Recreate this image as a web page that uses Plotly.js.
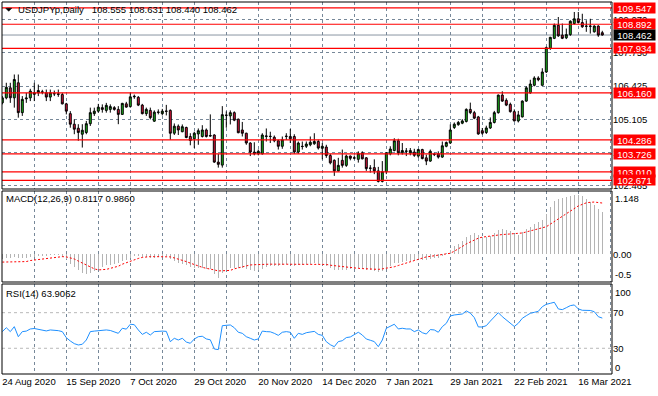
<!DOCTYPE html>
<html><head><meta charset="utf-8">
<script src="https://cdn.plot.ly/plotly-3.0.1.min.js"></script>
<style>html,body{margin:0;padding:0;background:#fff;}#chart{width:658px;height:396px;}</style>
</head><body><div id="chart"></div>
<script>
const symbolTitle = 'USDJPYp,Daily';
const lastBar = [108.555, 108.631, 108.440, 108.462];
const macdTitle = 'MACD(12,26,9) 0.8117 0.9860';
const rsiTitle = 'RSI(14) 63.9062';

const dateLabels = ['24 Aug 2020','15 Sep 2020','7 Oct 2020','29 Oct 2020','20 Nov 2020','14 Dec 2020','7 Jan 2021','29 Jan 2021','22 Feb 2021','16 Mar 2021'];
const gridBars = [0,8,16,24,32,40,48,56,64,72,80,88,96,104,112,120,128,136,144,152];

const open = [105.76,105.96,106.36,105.96,106.56,105.37,105.92,105.96,106.10,106.16,106.20,106.16,105.99,106.13,106.12,106.09,105.72,105.33,104.91,104.75,
104.51,104.58,104.93,105.33,105.43,105.57,105.46,105.50,105.57,105.50,105.30,105.72,105.61,106.00,105.98,105.67,105.33,105.46,105.03,105.38,
105.33,105.42,105.46,104.55,104.83,104.61,104.78,104.42,104.33,104.52,104.42,104.68,104.46,104.48,103.40,103.28,105.26,105.24,105.37,105.11,
104.68,104.55,104.16,103.80,103.73,103.73,104.42,104.43,104.39,104.25,104.03,104.42,104.42,104.42,103.80,104.03,104.03,104.09,104.13,104.22,
103.95,104.00,103.66,103.47,103.05,103.47,103.27,103.64,103.57,103.51,103.77,103.57,103.15,103.18,103.05,102.63,103.02,103.73,103.86,104.25,
103.77,103.83,103.77,103.80,103.64,103.90,103.57,103.44,103.70,103.73,103.60,104.03,104.16,104.78,104.89,104.95,105.02,105.50,105.37,105.20,
104.65,104.58,104.76,104.98,105.37,106.07,105.86,105.70,105.41,105.04,105.20,105.83,106.16,106.46,106.75,106.46,106.99,107.93,108.33,108.85,
108.46,108.35,108.48,108.92,109.11,108.96,108.82,108.82,108.59,108.82,108.555];
const high = [106.03,106.56,106.56,106.89,106.89,106.03,106.16,106.32,106.56,106.49,106.28,106.29,106.29,106.25,106.29,106.16,105.76,105.43,105.10,104.91,
104.91,105.04,105.57,105.57,105.72,105.70,105.76,105.70,105.63,105.63,105.76,105.80,106.16,106.09,106.03,105.72,105.57,105.57,105.46,105.50,
105.52,105.68,105.50,104.94,104.90,104.90,104.81,104.55,104.61,104.74,104.87,104.74,105.30,104.51,103.73,105.63,105.42,105.46,105.42,105.13,
105.00,104.57,104.19,104.19,103.90,104.55,104.74,104.61,104.46,104.29,104.42,104.55,104.72,104.51,104.22,104.22,104.22,104.42,104.55,104.29,
104.16,104.09,103.73,103.51,103.57,103.90,103.70,103.66,103.66,103.83,103.83,103.60,103.28,103.51,103.21,103.44,103.80,104.03,104.35,104.33,
104.16,103.96,103.96,103.93,103.93,103.93,103.70,103.90,103.77,103.83,104.22,104.22,104.90,104.98,105.04,105.11,105.54,105.77,105.44,105.24,
104.76,104.85,105.18,105.44,106.09,106.22,105.94,105.77,105.50,105.44,105.86,106.42,106.68,106.82,106.82,107.14,108.00,108.39,108.92,109.18,
108.92,108.72,109.05,109.38,109.38,109.31,109.05,109.11,108.85,108.85,108.631];
const low = [105.70,105.90,105.76,105.57,105.17,105.24,105.76,105.83,105.83,106.03,106.10,105.83,105.83,106.03,106.00,105.70,105.30,104.77,104.51,104.25,
103.98,104.51,104.84,105.24,105.37,105.37,105.37,105.37,105.45,104.91,105.28,105.57,105.57,105.92,105.63,105.30,105.24,105.10,105.00,105.30,
105.26,105.26,104.29,104.48,104.48,104.59,104.35,104.07,103.96,104.09,104.38,104.38,104.42,103.37,103.18,103.18,104.77,104.90,105.03,104.55,
104.42,104.09,103.64,103.67,103.67,103.70,104.22,104.16,104.19,103.90,103.93,104.29,104.16,103.73,103.73,103.90,103.96,104.03,104.09,103.90,
103.51,103.57,103.31,102.85,103.02,103.18,103.21,103.47,103.51,103.38,103.51,103.05,102.98,102.92,102.59,102.59,102.92,103.67,103.83,103.67,
103.70,103.64,103.67,103.61,103.57,103.51,103.28,103.41,103.64,103.54,103.57,103.99,104.12,104.72,104.85,104.91,104.98,105.31,105.11,104.49,
104.49,104.52,104.72,104.94,105.33,105.80,105.63,105.37,105.02,104.98,105.18,105.80,106.12,106.42,106.62,106.44,106.95,107.87,108.30,108.39,
108.30,108.30,108.43,108.88,108.92,108.75,108.59,108.52,108.56,108.39,108.440];
const close = [105.96,106.38,105.96,106.69,105.37,105.90,105.95,106.23,106.16,106.25,106.18,105.99,106.16,106.12,106.10,105.72,105.43,104.91,104.71,104.58,
104.67,104.93,105.37,105.43,105.59,105.50,105.66,105.61,105.50,105.30,105.74,105.59,106.00,106.02,105.67,105.33,105.50,105.17,105.39,105.39,
105.43,105.43,104.55,104.83,104.68,104.81,104.38,104.26,104.55,104.65,104.68,104.42,104.44,103.40,103.31,105.29,105.27,105.37,105.07,104.57,
104.55,104.16,103.80,103.73,103.83,104.48,104.44,104.42,104.25,104.03,104.29,104.43,104.33,103.80,104.16,104.02,104.12,104.19,104.22,103.96,
104.03,103.66,103.37,103.05,103.27,103.27,103.64,103.55,103.56,103.74,103.53,103.14,103.16,103.05,102.63,103.02,103.77,103.92,104.25,103.77,
103.86,103.84,103.86,103.67,103.90,103.54,103.44,103.83,103.71,103.60,104.05,104.18,104.68,104.91,104.98,105.04,105.50,105.37,105.15,104.52,
104.55,104.76,104.98,105.37,106.07,105.83,105.67,105.41,105.04,105.28,105.83,106.36,106.51,106.75,106.68,106.99,107.96,108.37,108.85,108.43,
108.33,108.48,109.01,109.11,108.96,108.79,108.81,108.81,108.82,108.46,108.462];

const macdHist = [-0.09,-0.08,-0.08,-0.06,-0.08,-0.08,-0.07,-0.06,-0.05,-0.04,-0.03,-0.03,-0.02,-0.02,-0.02,-0.05,-0.10,-0.18,-0.25,-0.31,
-0.36,-0.38,-0.36,-0.33,-0.29,-0.25,-0.21,-0.20,-0.18,-0.16,-0.13,-0.11,-0.07,-0.03,-0.03,-0.05,-0.06,-0.08,-0.07,-0.06,
-0.05,-0.04,-0.10,-0.13,-0.16,-0.18,-0.21,-0.25,-0.26,-0.27,-0.27,-0.29,-0.29,-0.38,-0.45,-0.36,-0.31,-0.27,-0.26,-0.27,
-0.27,-0.29,-0.31,-0.32,-0.31,-0.28,-0.25,-0.23,-0.22,-0.23,-0.21,-0.19,-0.19,-0.22,-0.21,-0.20,-0.19,-0.18,-0.17,-0.19,
-0.20,-0.22,-0.26,-0.30,-0.31,-0.31,-0.30,-0.29,-0.28,-0.27,-0.28,-0.30,-0.31,-0.32,-0.35,-0.33,-0.28,-0.23,-0.17,-0.16,
-0.14,-0.13,-0.12,-0.11,-0.10,-0.11,-0.11,-0.09,-0.08,-0.07,-0.03,0.02,0.09,0.15,0.20,0.25,0.33,0.38,0.40,0.37,
0.33,0.33,0.35,0.40,0.47,0.49,0.47,0.44,0.39,0.37,0.42,0.49,0.53,0.59,0.62,0.65,0.77,0.91,1.02,1.07,
1.09,1.11,1.13,1.14,1.148,1.12,1.07,1.01,0.95,0.87,0.8117];
const macdSignal = [-0.15,-0.15,-0.15,-0.15,-0.145,-0.14,-0.14,-0.12,-0.11,-0.10,-0.09,-0.08,-0.07,-0.055,-0.045,-0.045,-0.05,-0.07,-0.09,-0.13,
-0.17,-0.21,-0.25,-0.28,-0.30,-0.30,-0.29,-0.27,-0.25,-0.23,-0.19,-0.16,-0.13,-0.11,-0.08,-0.06,-0.05,-0.045,-0.045,-0.045,
-0.045,-0.045,-0.05,-0.07,-0.09,-0.11,-0.14,-0.17,-0.20,-0.23,-0.25,-0.27,-0.28,-0.30,-0.32,-0.32,-0.32,-0.31,-0.28,-0.26,
-0.24,-0.22,-0.205,-0.20,-0.195,-0.19,-0.19,-0.19,-0.19,-0.19,-0.19,-0.19,-0.19,-0.19,-0.19,-0.19,-0.19,-0.19,-0.19,-0.19,
-0.19,-0.195,-0.21,-0.22,-0.23,-0.24,-0.25,-0.26,-0.265,-0.27,-0.275,-0.28,-0.285,-0.29,-0.29,-0.28,-0.27,-0.255,-0.24,-0.215,
-0.19,-0.165,-0.14,-0.115,-0.09,-0.07,-0.05,-0.04,-0.03,-0.02,-0.01,0.0,0.02,0.06,0.10,0.15,0.20,0.24,0.28,0.31,
0.33,0.34,0.355,0.37,0.375,0.38,0.385,0.39,0.395,0.40,0.41,0.43,0.455,0.47,0.49,0.51,0.53,0.58,0.63,0.69,
0.74,0.79,0.84,0.89,0.93,0.96,0.99,1.00,1.005,0.995,0.986];
const rsi = [48.7,53.1,48.7,54.3,43.0,48.7,49.3,51.7,52.2,51.5,50.6,49.5,50.6,50.5,49.8,48.7,41.9,38.2,35.2,33.7,
34.5,39.3,48.7,49.3,49.8,49.5,50.6,50.0,48.7,46.8,52.5,51.5,57.0,56.5,50.6,45.6,48.0,44.9,48.7,49.3,
49.3,49.0,37.4,41.2,39.3,41.2,37.0,35.6,40.4,43.0,43.5,40.5,39.5,29.2,28.5,55.4,55.5,56.2,53.1,48.0,
46.8,43.0,41.2,39.3,40.5,49.3,48.7,48.5,46.8,44.5,48.0,48.7,48.0,41.2,46.8,45.6,47.5,48.5,49.0,45.6,
44.5,37.4,34.0,31.8,37.5,38.5,42.0,42.7,44.9,48.0,44.9,40.4,39.0,37.5,31.8,39.3,52.5,54.3,57.0,51.7,
52.5,51.7,51.7,48.7,50.6,47.5,46.0,51.0,50.6,48.0,54.3,58.0,66.3,67.4,67.8,68.5,71.9,69.5,64.5,54.0,
53.9,55.4,60.5,65.0,70.0,65.5,62.0,58.5,54.5,58.1,63.7,66.6,69.3,70.4,71.5,76.7,79.4,80.5,81.7,74.2,
73.4,75.6,77.9,78.7,74.2,72.7,72.7,72.5,71.1,65.5,63.9062];

const levels = [109.547,108.892,107.934,106.160,104.286,103.726,103.010,102.671];
const lastPrice = 108.462;
const priceTicks = [109.070,107.750,106.425,105.105,103.785,102.465];
const macdTicks = [0];
const macdTickText = ['0.00'];
const macdEdgeLabels = ['1.148','-0.5'];   // window max / min, printed at the pane edges
const rsiTicks = [70,30];
const rsiEdgeLabels = ['100','0'];         // window max / min, printed at the pane edges
const rsiLevels = [70,30];

const bars = close.map((_, i) => i);
const gridText = gridBars.map((b, k) => (k % 2 === 0 && dateLabels[k/2]) ? dateLabels[k/2] : '');

const FONT = 'Liberation Sans, Arial, sans-serif';
const GRID = '#778899';

const traces = [
  {type:'candlestick', x:bars, open:open, high:high, low:low, close:close, xaxis:'x', yaxis:'y',
   increasing:{fillcolor:'#1BB31B', line:{color:'#000', width:1}},
   decreasing:{fillcolor:'#D8143A', line:{color:'#000', width:1}},
   whiskerwidth:0, hoverinfo:'skip', showlegend:false},
  {type:'bar', x:bars, y:macdHist, xaxis:'x', yaxis:'y2', width:0.3,
   marker:{color:'#B4B4B4', line:{width:0}}, hoverinfo:'skip', showlegend:false},
  {type:'scatter', mode:'lines', x:bars, y:macdSignal, xaxis:'x', yaxis:'y2',
   line:{color:'#FF0000', width:1, dash:'2px,2px'}, hoverinfo:'skip', showlegend:false},
  {type:'scatter', mode:'lines', x:bars, y:rsi, xaxis:'x', yaxis:'y3',
   line:{color:'#1E90FF', width:1}, hoverinfo:'skip', showlegend:false}
];

// pane geometry in paper units
const panes = [[0.4973,1],[0.2473,0.4919],[0,0.2419]];

const shapes = [];
levels.forEach(v => shapes.push({type:'line', xref:'paper', yref:'y', x0:0, x1:1, y0:v, y1:v,
  line:{color:'#FF0000', width:1.2}, layer:'above'}));
shapes.push({type:'line', xref:'paper', yref:'y', x0:0, x1:1, y0:lastPrice, y1:lastPrice,
  line:{color:'#8A96A3', width:1}, layer:'below'});
rsiLevels.forEach(v => shapes.push({type:'line', xref:'paper', yref:'y3', x0:0, x1:1, y0:v, y1:v,
  line:{color:'#B8B8B8', width:1, dash:'3px,3px'}, layer:'below'}));
panes.forEach(d => shapes.push({type:'rect', xref:'paper', yref:'paper', x0:0, x1:1, y0:d[0], y1:d[1],
  line:{color:'#000', width:1}, fillcolor:'rgba(0,0,0,0)', layer:'above'}));
shapes.push({type:'path', xref:'paper', yref:'paper',
  path:'M 0.0061 0.9830 L 0.0160 0.9830 L 0.0110 0.9750 Z', fillcolor:'#000', line:{color:'#000', width:0.5}});

const annotations = [];
const nb = '\u00a0';
const txtFont = {family:FONT, size:9.5, color:'#000'};
annotations.push({xref:'paper', yref:'paper', x:0.0240, y:0.9785, xanchor:'left', yanchor:'middle', showarrow:false, borderpad:0,
  text: symbolTitle + nb+nb+nb + lastBar.map(v => v.toFixed(3)).join(' '), font:txtFont});
annotations.push({xref:'paper', yref:'paper', x:0.0045, y:0.4710, xanchor:'left', yanchor:'middle', showarrow:false, borderpad:0,
  text: macdTitle, font:txtFont});
annotations.push({xref:'paper', yref:'paper', x:0.0045, y:0.2170, xanchor:'left', yanchor:'middle', showarrow:false, borderpad:0,
  text: rsiTitle, font:txtFont});
// indicator window max/min labels at pane edges (MetaTrader style)
annotations.push({xref:'paper', yref:'paper', x:1, y:panes[1][1], xanchor:'left', yanchor:'top', xshift:2, yshift:-0.5,
  showarrow:false, borderpad:0, text:macdEdgeLabels[0], font:txtFont});
annotations.push({xref:'paper', yref:'paper', x:1, y:panes[1][0], xanchor:'left', yanchor:'bottom', xshift:2, yshift:1,
  showarrow:false, borderpad:0, text:macdEdgeLabels[1], font:txtFont});
annotations.push({xref:'paper', yref:'paper', x:1, y:panes[2][1], xanchor:'left', yanchor:'top', xshift:2, yshift:-1.5,
  showarrow:false, borderpad:0, text:rsiEdgeLabels[0], font:txtFont});
annotations.push({xref:'paper', yref:'paper', x:1, y:panes[2][0], xanchor:'left', yanchor:'bottom', xshift:2, yshift:0,
  showarrow:false, borderpad:0, text:rsiEdgeLabels[1], font:txtFont});
levels.forEach(v => annotations.push({xref:'paper', yref:'y', x:1, y:v, xanchor:'left', yanchor:'middle', xshift:1,
  showarrow:false, borderpad:0, width:41, height:10, bgcolor:'#FF0000', align:'center',
  text:v.toFixed(3), font:{family:FONT, size:9.5, color:'#FFFFFF'}}));
annotations.push({xref:'paper', yref:'y', x:1, y:lastPrice, xanchor:'left', yanchor:'middle', xshift:1,
  showarrow:false, borderpad:0, width:41, height:10, bgcolor:'#000000', align:'center',
  text:lastPrice.toFixed(3), font:{family:FONT, size:9.5, color:'#FFFFFF'}});

const layout = {
  width:658, height:396,
  margin:{l:2, r:46, t:2, b:22, pad:0},
  paper_bgcolor:'#FFFFFF', plot_bgcolor:'#FFFFFF',
  showlegend:false,
  font:{family:FONT, size:9.5, color:'#000'},
  bargap:0,
  xaxis:{range:[-0.075,152.425], anchor:'y3', tickmode:'array', tickvals:gridBars, ticktext:gridText,
    ticklabelposition:'outside right', ticks:'', showgrid:true, gridcolor:GRID, gridwidth:1, griddash:'3px,3px',
    zeroline:false, showline:false, rangeslider:{visible:false}, fixedrange:true,
    tickfont:txtFont},
  yaxis:{domain:panes[0], range:[102.328,109.778], side:'right', anchor:'x', tickmode:'array',
    tickvals:priceTicks, ticktext:priceTicks.map(v => v.toFixed(3)), ticks:'',
    showgrid:true, gridcolor:GRID, gridwidth:1, griddash:'3px,3px', zeroline:false, showline:false, fixedrange:true,
    tickfont:txtFont},
  yaxis2:{domain:panes[1], range:[-0.533,1.217], side:'right', anchor:'x', tickmode:'array',
    tickvals:macdTicks, ticktext:macdTickText, ticks:'', showgrid:false, zeroline:false, showline:false, fixedrange:true,
    tickfont:txtFont},
  yaxis3:{domain:panes[2], range:[1.1,102.2], side:'right', anchor:'x', tickmode:'array',
    tickvals:rsiTicks, ticktext:rsiTicks.map(String), ticks:'', showgrid:false, zeroline:false, showline:false, fixedrange:true,
    tickfont:txtFont},
  shapes:shapes,
  annotations:annotations
};

Plotly.newPlot('chart', traces, layout, {staticPlot:true, displayModeBar:false});
</script>
</body></html>
